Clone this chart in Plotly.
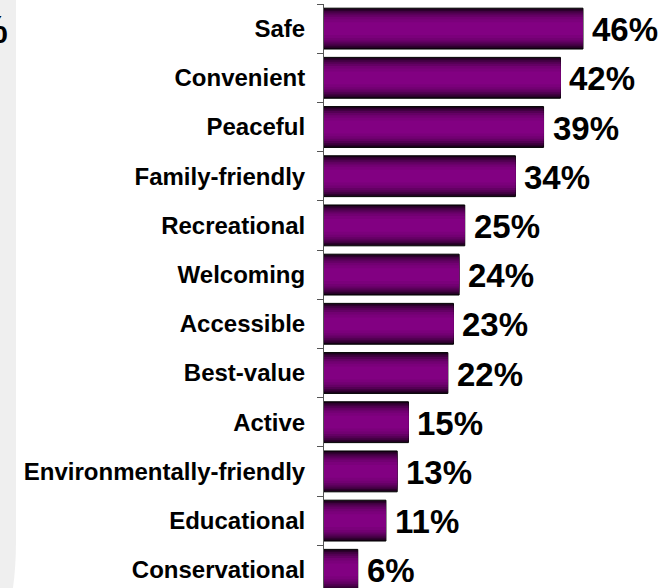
import plotly.graph_objects as go

# Survey results: share of respondents choosing each attribute
categories = [
    "Safe", "Convenient", "Peaceful", "Family-friendly", "Recreational",
    "Welcoming", "Accessible", "Best-value", "Active",
    "Environmentally-friendly", "Educational", "Conservational",
]
values = [46, 42, 39, 34, 25, 24, 23, 22, 15, 13, 11, 6]
value_labels = [f"{v}%" for v in values]

W, H = 664, 588
M_L, M_R, M_T, M_B = 324, 4, 4, 0
PLOT_W = W - M_L - M_R
PLOT_H = H - M_T - M_B
PX_PER_CAT = 49.2
PX_PER_PCT = 5.63

FONT = "Arial, Liberation Sans, sans-serif"


def px_to_paper(px, py):
    return (px - M_L) / PLOT_W, (H - M_B - py) / PLOT_H


# Cylinder-style shading: stacked, narrowing bars from dark rim to bright core
layer_widths = [0.83, 0.78, 0.72, 0.65, 0.57, 0.48, 0.38, 0.26]
layer_colors = ["#1a001a", "#2c002c", "#400040", "#530053",
                "#640064", "#720072", "#7b007b", "#820082"]

fig = go.Figure()
for i, (w, c) in enumerate(zip(layer_widths, layer_colors)):
    fig.add_trace(go.Bar(
        x=values,
        y=categories,
        orientation="h",
        width=w,
        marker=dict(color=c,
                    line=dict(color="#000000", width=1 if i == 0 else 0)),
        hoverinfo="skip" if i else "x+y",
        showlegend=False,
    ))

# Value labels at the end of each bar
annotations = []
for cat, v, lab in zip(categories, values, value_labels):
    annotations.append(dict(
        x=v, y=cat, xref="x", yref="y", text=lab, showarrow=False,
        xanchor="left", yanchor="middle", xshift=7, yshift=-1,
        font=dict(family=FONT, size=33, color="#000000", weight="bold"),
    ))

# Percent sign of the neighbouring panel, mostly cut off at the left edge
pct_x, pct_y = px_to_paper(10, 30)
annotations.append(dict(
    x=pct_x, y=pct_y, xref="paper", yref="paper", text="%", showarrow=False,
    xanchor="right", yanchor="middle",
    font=dict(family=FONT, size=38, color="#000000", weight="bold"),
))

# Light grey panel strip with a rounded lower corner
pts = {
    "a": px_to_paper(-5, -10),
    "b": px_to_paper(16, -10),
    "c": px_to_paper(16, 540),
    "q": px_to_paper(16, 588),
    "d": px_to_paper(6, 620),
    "e": px_to_paper(-5, 620),
}
path = (
    f"M {pts['a'][0]},{pts['a'][1]} L {pts['b'][0]},{pts['b'][1]} "
    f"L {pts['c'][0]},{pts['c'][1]} "
    f"Q {pts['q'][0]},{pts['q'][1]} {pts['d'][0]},{pts['d'][1]} "
    f"L {pts['e'][0]},{pts['e'][1]} Z"
)
shapes = [dict(type="path", path=path, xref="paper", yref="paper",
               fillcolor="#efefef", line=dict(width=0), layer="below")]

y_bottom = -0.5 + PLOT_H / PX_PER_CAT

fig.update_layout(
    width=W, height=H,
    margin=dict(l=M_L, r=M_R, t=M_T, b=M_B, pad=0),
    paper_bgcolor="#ffffff", plot_bgcolor="#ffffff",
    barmode="overlay",
    annotations=annotations,
    shapes=shapes,
    xaxis=dict(range=[0, PLOT_W / PX_PER_PCT], visible=False, fixedrange=True),
    yaxis=dict(
        type="category",
        categoryorder="array", categoryarray=categories,
        range=[y_bottom, -0.5],
        showline=True, linecolor="#555555", linewidth=1,
        ticks="outside", tickson="boundaries", ticklen=6,
        tickcolor="#555555", tickwidth=1,
        ticklabelstandoff=13,
        showgrid=False, zeroline=False,
        tickfont=dict(family=FONT, size=24, color="#000000", weight="bold"),
        fixedrange=True,
    ),
    font=dict(family=FONT),
)

fig.write_html("out.html", config={"displayModeBar": False})
